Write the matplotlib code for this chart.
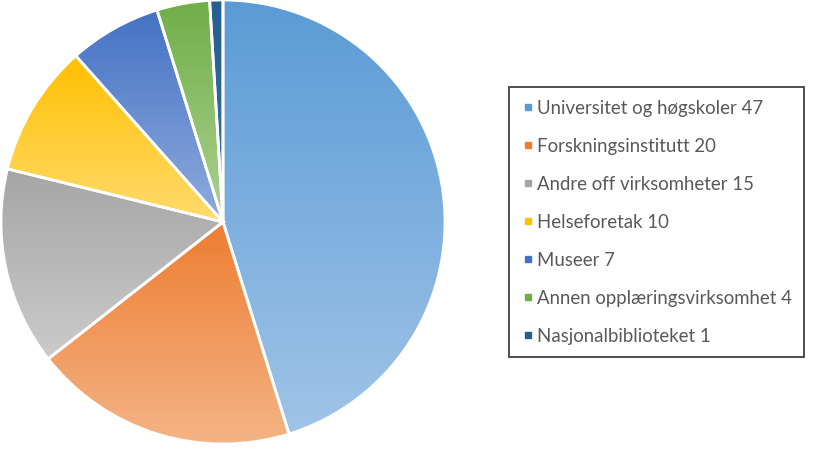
import numpy as np
import matplotlib.pyplot as plt
from matplotlib.lines import Line2D

labels = ["Universitet og høgskoler", "Forskningsinstitutt", "Andre off virksomheter",
          "Helseforetak", "Museer", "Annen opplæringsvirksomhet", "Nasjonalbiblioteket"]
values = [47, 20, 15, 10, 7, 4, 1]

# top / bottom colour of each slice's vertical gradient
top_colors = ["#5b9bd5", "#ed7d31", "#a5a5a5", "#ffc000", "#4472c4", "#70ad47", "#255e91"]
bottom_colors = ["#a0c4e8", "#f4b486", "#cbcbcb", "#ffdb6e", "#90abdd", "#acd291", "#3a72a8"]

fig = plt.figure(figsize=(8.14, 4.5), dpi=100)
ax = fig.add_axes([0, 0, 1, 1])

wedges, _ = ax.pie(values, startangle=90, counterclock=False,
                   center=(223, 228), radius=222, frame=True,
                   wedgeprops=dict(edgecolor="white", linewidth=2))

t = np.linspace(0, 1, 256)[:, None]
for w, c1, c2 in zip(wedges, top_colors, bottom_colors):
    a = np.array(plt.matplotlib.colors.to_rgb(c1))
    b = np.array(plt.matplotlib.colors.to_rgb(c2))
    grad = (a[None, :] * (1 - t) + b[None, :] * t)[:, None, :]
    ext = w.get_path().get_extents()
    im = ax.imshow(grad, extent=(ext.x0, ext.x1, ext.y0, ext.y1),
                   origin="upper", aspect="auto", zorder=1, interpolation="bilinear")
    im.set_clip_path(w)
    w.set_facecolor("none")
    w.set_zorder(2)

ax.set_xlim(0, 814)
ax.set_ylim(0, 450)
ax.axis("off")

handles = [Line2D([], [], marker="s", linestyle="none", markersize=4.5,
                  markerfacecolor=c, markeredgecolor=c) for c in top_colors]
leg_labels = [f"{l} {v}" for l, v in zip(labels, values)]
leg = ax.legend(handles, leg_labels, loc="upper left",
                bbox_to_anchor=(509 / 814, 1 - 87 / 450), bbox_transform=fig.transFigure,
                borderaxespad=0, fancybox=False, framealpha=1, edgecolor="#404040",
                labelspacing=1.13, borderpad=0.68, handlelength=0.7, handletextpad=0.1,
                prop=dict(family="Lato", size=13.4), labelcolor="#595959")
leg.get_frame().set_linewidth(1.3)

fig.savefig("out.png", dpi=100)
